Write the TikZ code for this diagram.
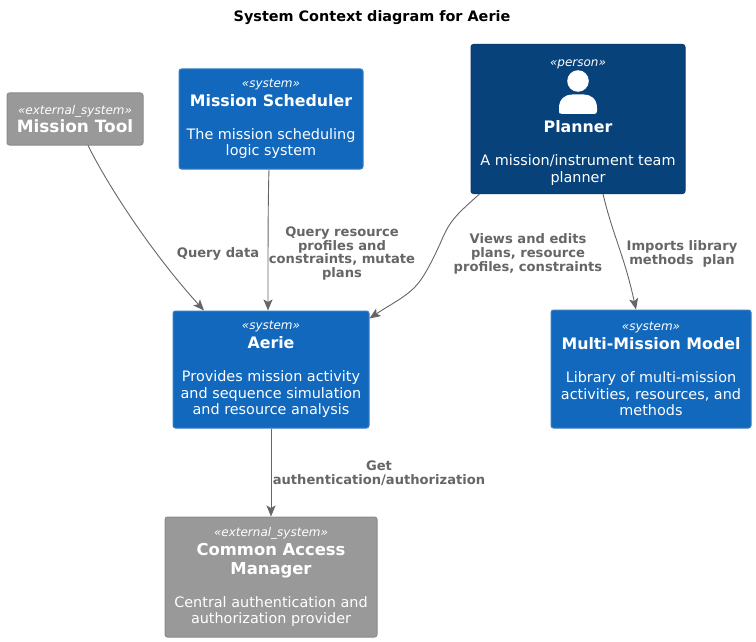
\documentclass[tikz,border=0pt]{standalone}
\usepackage{fontspec}
\setmainfont{DejaVu Sans}
\usetikzlibrary{arrows.meta}
\definecolor{sysfill}{HTML}{1168BD}
\definecolor{sysline}{HTML}{3C7FC0}
\definecolor{perfill}{HTML}{08427B}
\definecolor{perline}{HTML}{073B6F}
\definecolor{extfill}{HTML}{999999}
\definecolor{extline}{HTML}{8A8A8A}
\definecolor{edgecol}{HTML}{666666}
\newcommand{\ster}[1]{{\fontsize{12}{14}\selectfont\itshape «#1»}}
\newcommand{\nam}[1]{{\fontsize{15.8}{19}\selectfont\bfseries #1}}
\newcommand{\namb}[1]{{\fontsize{16.4}{19}\selectfont\bfseries #1}}
\newcommand{\des}[1]{{\fontsize{14.4}{16.3}\selectfont #1}}
\newcommand{\tightlines}{\lineskiplimit -100pt\relax}
\tikzset{
  box/.style={draw,line width=1pt,rounded corners=2.5pt,anchor=center,align=center,text=white,inner sep=0pt,font=\fontsize{10}{12}\selectfont\tightlines},
  sysbox/.style={box,fill=sysfill,draw=sysline},
  perbox/.style={box,fill=perfill,draw=perline},
  extbox/.style={box,fill=extfill,draw=extline},
  rel/.style={draw=edgecol,line width=0.9pt,-{Stealth[length=11pt,width=9pt,inset=2.5pt]}},
  lab/.style={text=edgecol,align=center,font=\fontsize{13.1}{14}\selectfont\bfseries\tightlines,inner sep=0pt},
  icon/.style={fill=white,draw=none}
}
\begin{document}
\begin{tikzpicture}[x=1pt,y=-1pt]
\useasboundingbox (0,0) rectangle (756,642);
\node[font=\fontsize{14.4}{16}\selectfont\bfseries,inner sep=0pt] (title) at (372,18) {System Context diagram for Aerie};

\node[extbox,minimum width=136pt,minimum height=52pt] (tool) at (75,119) {\ster{external\_system}\\[6pt]{\fontsize{16.9}{19}\selectfont\bfseries Mission Tool}};
\node[sysbox,minimum width=184pt,minimum height=100pt] (sched) at (271,119) {\ster{system}\\[7pt]\nam{Mission Scheduler}\\[21pt]\des{The mission scheduling}\\[4.3pt]\des{logic system}};
\node[perbox,minimum width=214pt,minimum height=149pt] (planner) at (578,119) {\rule{0pt}{14pt}\ster{person}\\[54pt]\nam{Planner}\\[21pt]\des{A mission/instrument team}\\[4.3pt]\des{planner}};
\node[sysbox,minimum width=196pt,minimum height=117pt] (aerie) at (271,369.5) {\ster{system}\\[7pt]\nam{Aerie}\\[21pt]\des{Provides mission activity}\\[4.3pt]\des{and sequence simulation}\\[4.3pt]\des{and resource analysis}};
\node[sysbox,minimum width=200pt,minimum height=118pt] (mmm) at (651,369) {\ster{system}\\[7pt]\nam{Multi-Mission Model}\\[21pt]\des{Library of multi-mission}\\[4.3pt]\des{activities, resources, and}\\[4.3pt]\des{methods}};
\node[extbox,minimum width=212pt,minimum height=120pt] (cam) at (271,577) {\ster{external\_system}\\[7pt]\namb{Common Access}\\[7pt]\namb{Manager}\\[21pt]\des{Central authentication and}\\[4.3pt]\des{authorization provider}};

% person icon
\fill[icon] (578,81) circle (10.8pt);
\fill[icon] (559,114) -- (559,108) .. controls (559,99) and (565,94.5) .. (572,94.5) -- (584,94.5) .. controls (591,94.5) and (597,99) .. (597,108) -- (597,111) .. controls (597,113) and (596,114) .. (594,114) -- (562,114) .. controls (560,114) and (559,113) .. (559,111) -- cycle;

% connectors
\draw[rel] ([xshift=13pt]tool.south) .. controls +(22,44) and +(-50,-55) .. ([xshift=-67pt]aerie.north);
\draw[rel] ([xshift=-2pt]sched.south) .. controls +(-1,30) and +(0,-60) .. ([xshift=-3pt]aerie.north);
\draw[rel] ([xshift=9pt]planner.south west) .. controls +(-20,18) and +(8,-18) .. (443,237) .. controls +(-6,14) and +(8,-11) .. (420,281) .. controls +(-11,15) and +(22,-15) .. ([yshift=-8pt]aerie.north east);
\draw[rel] ([xshift=25pt]planner.south) .. controls +(10,42) and +(-12,-55) .. ([xshift=-15pt]mmm.north);
\draw[rel] (aerie.south) -- (cam.north);

% labels
\node[lab] (l1) at (218,254) {Query data};
\node[lab] (l2) at (342,253.5) {Query resource\\profiles and\\constraints, mutate\\plans};
\node[lab] (l3) at (528,254) {Views and edits\\plans, resource\\profiles, constraints};
\node[lab] (l4) at (682,254) {Imports library\\methods\ \ plan};
\node[lab] (l5) at (379,473) {Get\\authentication/authorization};
\end{tikzpicture}
\end{document}
